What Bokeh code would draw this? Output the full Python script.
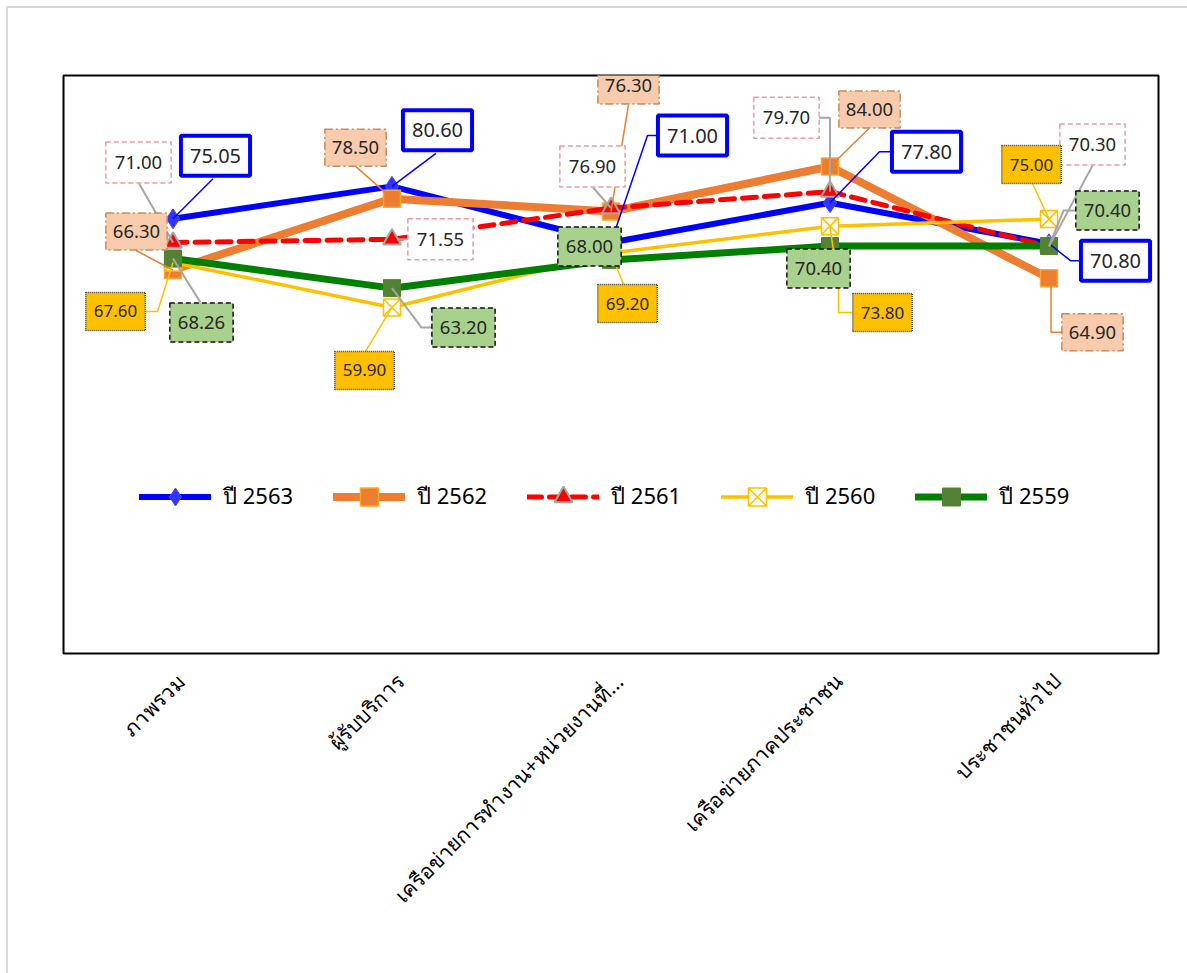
import math
from bokeh.plotting import figure
from bokeh.models import Range1d, FixedTicker, Label, Legend, LegendItem
from bokeh.embed import file_html
from bokeh.resources import INLINE

# ---------------- data ----------------
categories = ["ภาพรวม", "ผู้รับบริการ", "เครือข่ายการทำงาน+หน่วยงานที่...",
              "เครือข่ายภาคประชาชน", "ประชาชนทั่วไป"]
years = ["ปี 2563", "ปี 2562", "ปี 2561", "ปี 2560", "ปี 2559"]
v2563 = [75.05, 80.60, 71.00, 77.80, 70.80]
v2562 = [66.30, 78.50, 76.30, 84.00, 64.90]
v2561 = [71.00, 71.55, 76.90, 79.70, 70.30]
v2560 = [67.60, 59.90, 69.20, 73.80, 75.00]
v2559 = [68.26, 63.20, 68.00, 70.40, 70.40]
series_values = [v2563, v2562, v2561, v2560, v2559]

# ---------------- layout / styles ----------------
FW, FH = 1095, 578
X0, X1 = 0.5, 5.5
Y0, Y1 = 0.75, 99.55
FONT = "Noto Sans"

styles = [
    dict(color="#0000FF", lw=6, dash="solid", marker="diamond", msize=20, mfill="#3333FF", mline="#4a4aff", mlw=1,
         lab_fill="white", lab_line="#0000FF", lab_lw=4, lab_dash="solid", lab_font="20px", lab_pad=(9, 13),
         lead_color="#0000FF", lead_w=1.5),
    dict(color="#ED7D31", lw=8, dash="solid", marker="square", msize=17, mfill="#ED7D31", mline="#FFA726", mlw=1.5,
         lab_fill="#F8CBAD", lab_line="#C98A5C", lab_lw=1.5, lab_dash="8 3 2 3", lab_font="18.5px", lab_pad=(7, 12),
         lead_color="#ED7D31", lead_w=1.5),
    dict(color="#FF0000", lw=5, dash="14 8", marker="triangle", msize=18, mfill="#FF0000", mline="#A5A5A5", mlw=2,
         lab_fill="white", lab_line="#EE9AA2", lab_lw=1.5, lab_dash="5 3", lab_font="18.5px", lab_pad=(9, 14),
         lead_color="#A5A5A5", lead_w=2),
    dict(color="#FFC000", lw=3.5, dash="solid", marker="square_x", msize=17, mfill="#FFFDF5", mline="#FFC000", mlw=1.5,
         lab_fill="#FFC000", lab_line="#404040", lab_lw=1.5, lab_dash="1 1", lab_font="17px", lab_pad=(8, 13),
         lead_color="#FFC000", lead_w=1.5),
    dict(color="#008000", lw=7, dash="solid", marker="square", msize=17, mfill="#548235", mline="#548235", mlw=1,
         lab_fill="#A9D18E", lab_line="#111111", lab_lw=1.5, lab_dash="5 3", lab_font="18.5px", lab_pad=(8, 13),
         lead_color="#A5A5A5", lead_w=2),
]

# label box centre offsets (px, y downward) from each point
label_offsets = [
    [(42.5, -63), (45.5, -56), (81.5, -107), (96.5, -51), (66.5, 17)],
    [(-36.5, -38.5), (-36.5, -51), (17.5, -126), (39.5, -57), (43.5, 54)],
    [(-34.5, -80), (48.5, 0), (-18.5, -41.5), (-43.5, -74), (43.5, -102)],
    [(-57.5, 49), (-27.5, 63), (16.5, 50.5), (52.5, 86.4), (-17.5, -54.6)],
    [(28.5, 64), (71.5, 39.4), (-21.5, -13.6), (-11.5, 22.5), (58.5, -35.5)],
]
# leader line waypoints (px, y downward) relative to each point
leaders = [
    [[(0, 0), (40, -40)], [(0, 0), (44, -33)], [(0, 0), (36.5, -107), (46.5, -107)],
     [(0, 0), (49.5, -51), (62, -51)], [(0, 0), (21.5, 17), (32, 17)]],
    [[(0, 0), (-37, -19.5)], [(0, 0), (-36, -32)], [(0, 0), (17.5, -107)],
     [(0, 0), (39, -38)], [(0, 0), (2, 9), (2, 54), (13.5, 54)]],
    [[(0, 0), (-34, -59)], [(5, 0), (16.5, 0)], [(0, 0), (-18, -20.5)],
     [(0, 0), (0, -74), (-11.5, -74)], [(0, 0), (43.5, -81)]],
    [[(0, 0), (-15.5, 49), (-27.5, 49)], [(0, 0), (-26.5, 44)], [(0, 0), (12.5, 31.5)],
     [(0, 0), (8.5, 61), (8.5, 86.4), (22.5, 86.4)], [(0, 0), (-16.5, -35.6)]],
    [[(0, 0), (27.5, 44)], [(0, 0), (29.5, 39.4), (40.5, 39.4)], [],
     [], [(0, 0), (14.5, -35.5), (27.5, -35.5)]],
]

p = figure(frame_width=FW, frame_height=FH,
           min_border_left=63, min_border_right=29, min_border_top=75, min_border_bottom=320,
           x_range=Range1d(X0, X1), y_range=Range1d(Y0, Y1),
           y_axis_location=None, output_backend="svg", toolbar_location=None,
           background_fill_color="white")
p.border_fill_alpha = 0
p.styles = {"background": "linear-gradient(#d9d9d9,#d9d9d9) 6px 6px / 2px 100% no-repeat, "
                          "linear-gradient(#d9d9d9,#d9d9d9) 6px 6px / 100% 2px no-repeat, white"}
p.outline_line_color = "black"
p.outline_line_width = 2
p.outline_line_alpha = 1
p.xgrid.visible = False
p.ygrid.visible = False

xs = list(range(1, len(categories) + 1))
sx = (X1 - X0) / FW
sy = (Y1 - Y0) / FH

# category labels: ticks nudged slightly right, as in the original rotated labels
tick_shift = round(8 * sx, 4)
tick_pos = [x + tick_shift for x in xs]
xa = p.xaxis[0]
xa.ticker = FixedTicker(ticks=tick_pos)
xa.major_label_overrides = {t: c for t, c in zip(tick_pos, categories)}
xa.major_label_orientation = math.pi / 4
xa.axis_line_color = None
xa.major_tick_line_color = None
xa.minor_tick_line_color = None
xa.major_label_standoff = 18
xa.major_label_text_font = FONT
xa.major_label_text_font_size = "21px"
xa.major_label_text_color = "black"

legend_items = []
for vals, st, name in zip(series_values, styles, years):
    lr = p.line(xs, vals, line_color=st["color"], line_width=st["lw"], line_dash=st["dash"],
                line_cap="round", line_join="round")
    sr = p.scatter(xs, vals, marker=st["marker"], size=st["msize"], fill_color=st["mfill"],
                   line_color=st["mline"], line_width=st["mlw"])
    legend_items.append(LegendItem(label=name, renderers=[lr, sr]))

# leader lines (above series, below labels)
for k, (vals, st) in enumerate(zip(series_values, styles)):
    for i, v in enumerate(vals):
        pts = leaders[k][i]
        if not pts:
            continue
        lx = [xs[i] + dx * sx for dx, dy in pts]
        ly = [v - dy * sy for dx, dy in pts]
        p.line(lx, ly, line_color=st["lead_color"], line_width=st["lead_w"])

# data labels
for k, (vals, st) in enumerate(zip(series_values, styles)):
    ph, pv = st["lab_pad"]
    for i, v in enumerate(vals):
        dx, dy = label_offsets[k][i]
        lab = Label(x=xs[i], y=v, x_offset=dx, y_offset=-dy, text=f"{v:.2f}",
                    text_align="center", text_baseline="middle",
                    text_font=FONT, text_font_size=st["lab_font"], text_color="#262626",
                    background_fill_color=st["lab_fill"], background_fill_alpha=1,
                    border_line_color=st["lab_line"], border_line_width=st["lab_lw"],
                    border_line_dash=st["lab_dash"],
                    padding=dict(left=ph, right=ph, top=pv, bottom=pv))
        p.add_layout(lab)

legend = Legend(items=legend_items, orientation="horizontal", location=(76, 134),
                glyph_width=72, glyph_height=45, label_standoff=12, spacing=40,
                padding=0, margin=0, border_line_color=None, background_fill_alpha=0,
                label_text_font=FONT, label_text_font_size="22px", label_text_color="black")
p.add_layout(legend, "center")

open("out.html", "w").write(file_html(p, INLINE))
